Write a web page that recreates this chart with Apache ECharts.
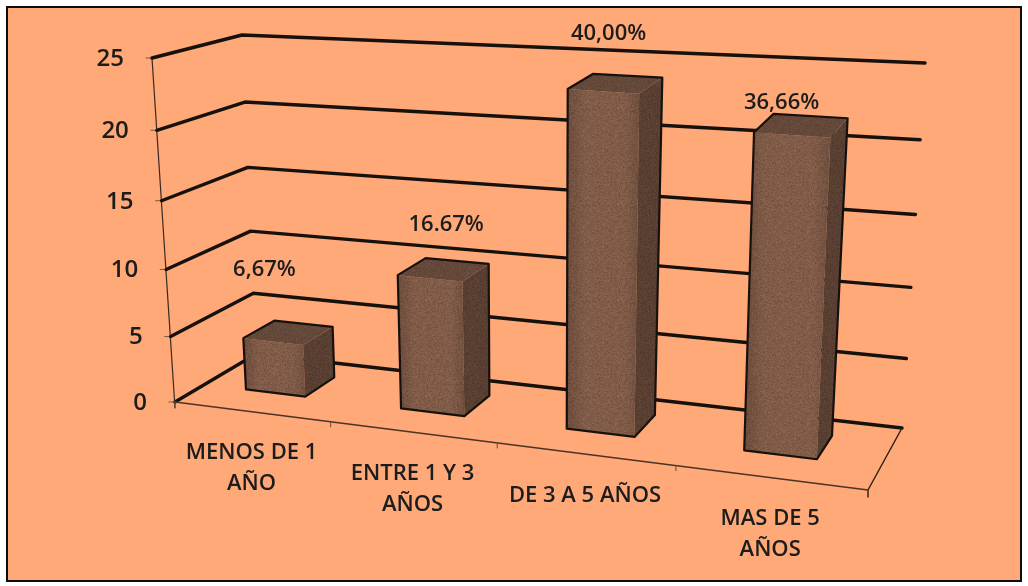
<!DOCTYPE html>
<html>
<head>
<meta charset="utf-8">
<title>Antigüedad</title>
<script src="https://cdn.jsdelivr.net/npm/echarts@6/dist/echarts.min.js"></script>
<style>
  html, body { margin: 0; padding: 0; background: #fff; }
  #main { width: 1028px; height: 586px; filter: blur(0.5px); }
</style>
</head>
<body>
<div id="main"></div>
<script>
const categories = ['MENOS DE 1\nAÑO', 'ENTRE 1 Y 3\nAÑOS', 'DE 3 A 5 AÑOS', 'MAS DE 5\nAÑOS'];
const values = [4, 10, 24, 22];
const percentLabels = ['6,67%', '16.67%', '40,00%', '36,66%'];
const yTicks = [0, 5, 10, 15, 20, 25];

// perspective box: floor and the plane at the axis max, corners in screen px
const floorQuad = [[175, 402], [868, 490], [902, 428], [256, 354]];
const topQuad = [[152, 58], [885, 115], [925, 63], [242, 35]];
const riseBend = 0.06;
const barFront = 0.35, barBack = 0.74, barBand = 0.39, barNudge = -0.007;
const percentShift = [[-39, -54], [-11, -36], [-19, -42], [-29, -13]];

const ink = '#17110d';
const fontFace = '"Open Sans", "Noto Sans", sans-serif';

function squareToQuad(q) {
  const [p0, p1, p2, p3] = q;
  const dx1 = p1[0] - p2[0], dx2 = p3[0] - p2[0], sx = p0[0] - p1[0] + p2[0] - p3[0];
  const dy1 = p1[1] - p2[1], dy2 = p3[1] - p2[1], sy = p0[1] - p1[1] + p2[1] - p3[1];
  const den = dx1 * dy2 - dx2 * dy1;
  const g = (sx * dy2 - dx2 * sy) / den, h = (dx1 * sy - sx * dy1) / den;
  const a = p1[0] - p0[0] + g * p1[0], b = p3[0] - p0[0] + h * p3[0];
  const d = p1[1] - p0[1] + g * p1[1], e = p3[1] - p0[1] + h * p3[1];
  return function (u, v) {
    const w = g * u + h * v + 1;
    return [(a * u + b * v + p0[0]) / w, (d * u + e * v + p0[1]) / w];
  };
}
const floorAt = squareToQuad(floorQuad);
const lifts = topQuad.map((p, i) => [p[0] - floorQuad[i][0], p[1] - floorQuad[i][1]]);

// u: across the floor, d: into the depth, t: share of the value axis
function project(u, d, t) {
  const f = floorAt(u, d);
  const a = floorAt(0, d), b = floorAt(1, d);
  const s = (f[0] - a[0]) / (b[0] - a[0]);
  const r = t * (1 - riseBend) / (1 - riseBend * t);
  const lift = [0, 1].map(k =>
    lifts[0][k] * (1 - s) * (1 - d) + lifts[1][k] * s * (1 - d) + lifts[2][k] * s * d + lifts[3][k] * (1 - s) * d);
  return [f[0] + lift[0] * r, f[1] + lift[1] * r];
}
function shareOfY(params, api, v) {
  const box = params.coordSys;
  return (box.y + box.height - api.coord([0, v])[1]) / box.height;
}
function shareOfX(params, api, i) {
  const box = params.coordSys;
  return (api.coord([i, 0])[0] - box.x) / box.width;
}

// grain for the bar faces
function grain(base, amount) {
  const c = document.createElement('canvas');
  c.width = c.height = 96;
  const ctx = c.getContext('2d');
  for (let y = 0; y < 96; y++) {
    for (let x = 0; x < 96; x++) {
      const s = Math.sin(x * 12.9898 + y * 78.233) * 43758.5453;
      const n = (s - Math.floor(s) - 0.5) * amount;
      ctx.fillStyle = 'rgb(' + (base[0] + n) + ',' + (base[1] + n) + ',' + (base[2] + n) + ')';
      ctx.fillRect(x, y, 1, 1);
    }
  }
  return { image: c, repeat: 'repeat' };
}
const frontFill = grain([128, 91, 72], 22);
const sideFill = grain([88, 63, 50], 16);
const topFill = grain([100, 72, 57], 14);

function line(points, width, color) {
  return { type: 'polyline', shape: { points: points }, style: { fill: null, stroke: color, lineWidth: width, lineJoin: 'round', lineCap: 'round' } };
}

function renderWall(params, api) {
  const v = api.value(1);
  const t = shareOfY(params, api, v);
  const front = project(0, 0, t), corner = project(0, 1, t), end = project(1, 1, t);
  const children = [
    line([[front[0] - 6, front[1]], front], 1, '#7a5a44'),
    line([front, corner, end], 3.4, ink),
    {
      type: 'text',
      style: { text: String(v), x: front[0] - 28, y: front[1] + 1, align: 'right', verticalAlign: 'middle', font: '600 24px ' + fontFace, fill: '#1c1c1c' }
    }
  ];
  if (v === 0) {
    const topFront = project(0, 0, 1);
    children.push(line([topFront, [front[0], front[1] + 6]], 1.2, '#3a2a20'));
    const fr = project(1, 0, 0), br = project(1, 1, 0);
    children.push(line([br, fr, [fr[0], fr[1] + 7]], 1.4, '#2a1d14'));
    children.push(line([front, fr], 1.6, '#4a3424'));
  }
  return { type: 'group', children: children };
}

function renderCategory(params, api) {
  const i = api.value(0);
  const u = shareOfX(params, api, i);
  const band = api.size([1, 0])[0] / params.coordSys.width;
  const edge = project(u, 0, 0);
  const left = project(u - band / 2, 0, 0);
  return {
    type: 'group',
    children: [
      line([left, [left[0], left[1] + 5]], 1, '#6a4a34'),
      {
        type: 'text',
        style: {
          text: categories[i], x: edge[0], y: edge[1] + 26, align: 'center', verticalAlign: 'top',
          font: '600 22px ' + fontFace, lineHeight: 31, fill: '#1c1c1c'
        }
      }
    ]
  };
}

function renderBar(params, api) {
  const i = api.value(0);
  const u = shareOfX(params, api, i) + barNudge;
  const half = api.size([1, 0])[0] / params.coordSys.width * barBand / 2;
  const t = shareOfY(params, api, api.value(1));
  const ul = u - half, ur = u + half;
  const fbl = project(ul, barFront, 0), fbr = project(ur, barFront, 0), bbr = project(ur, barBack, 0);
  const ftl = project(ul, barFront, t), ftr = project(ur, barFront, t);
  const btl = project(ul, barBack, t), btr = project(ur, barBack, t);
  const face = (pts, fill) => ({ type: 'polygon', shape: { points: pts }, style: { fill: fill, stroke: null } });
  const glow = new echarts.graphic.LinearGradient(0, 0, 1, 0, [
    { offset: 0, color: 'rgba(40,24,16,0.22)' },
    { offset: 0.25, color: 'rgba(40,24,16,0)' },
    { offset: 0.8, color: 'rgba(40,24,16,0)' },
    { offset: 1, color: 'rgba(40,24,16,0.18)' }
  ]);
  const shift = percentShift[i];
  return {
    type: 'group',
    children: [
      face([fbl, fbr, ftr, ftl], frontFill),
      face([fbl, fbr, ftr, ftl], glow),
      face([fbr, bbr, btr, ftr], sideFill),
      face([ftl, ftr, btr, btl], topFill),
      { type: 'polygon', shape: { points: [fbl, fbr, bbr, btr, btl, ftl] }, style: { fill: null, stroke: ink, lineWidth: 2.2, lineJoin: 'round' } },
      {
        type: 'text',
        style: {
          text: percentLabels[i], x: (btl[0] + btr[0]) / 2 + shift[0], y: (btl[1] + btr[1]) / 2 + shift[1],
          align: 'center', verticalAlign: 'middle', font: '600 22px ' + fontFace, fill: '#1c1c1c'
        }
      }
    ]
  };
}

const chart = echarts.init(document.getElementById('main'));
chart.setOption({
  animation: false,
  backgroundColor: '#fff',
  graphic: [{
    type: 'rect', z: -10, silent: true,
    shape: { x: 7, y: 7, width: 1014, height: 574 },
    style: { fill: '#ffa878', stroke: '#0c0c0c', lineWidth: 2 }
  }],
  grid: { left: 175, right: 160, top: 58, bottom: 184 },
  xAxis: { type: 'category', data: categories, show: false },
  yAxis: { type: 'value', min: 0, max: 25, interval: 5, show: false },
  series: [
    { type: 'custom', silent: true, clip: false, z: 2, renderItem: renderWall, data: yTicks.map(v => [0, v]) },
    { type: 'custom', silent: true, clip: false, z: 3, renderItem: renderCategory, data: categories.map((c, i) => [i, 0]) },
    { type: 'custom', silent: true, clip: false, z: 4, renderItem: renderBar, data: values.map((v, i) => [i, v]) }
  ]
});
window.onresize = function () {
  chart.resize();
};
</script>
</body>
</html>
